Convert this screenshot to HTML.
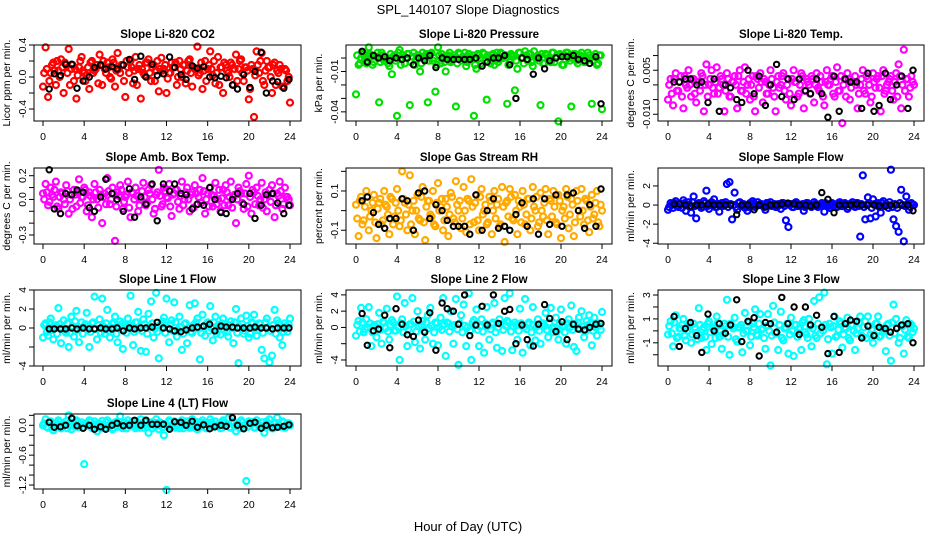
<!DOCTYPE html>
<html><head><meta charset="utf-8"><style>
html,body{margin:0;padding:0;background:#fff}
svg{display:block;font-family:"Liberation Sans",sans-serif}
</style></head><body>
<svg id="c" width="936" height="540" viewBox="0 0 936 540">
<text x="468" y="14" text-anchor="middle" font-size="13">SPL_140107  Slope Diagnostics</text>
<text x="468" y="531" text-anchor="middle" font-size="13">Hour of Day (UTC)</text>
</svg>
<script>
const hours = [0,0.25,0.5,0.75,1,1.25,1.5,1.75,2,2.25,2.5,2.75,3,3.25,3.5,3.75,4,4.25,4.5,4.75,5,5.25,5.5,5.75,6,6.25,6.5,6.75,7,7.25,7.5,7.75,8,8.25,8.5,8.75,9,9.25,9.5,9.75,10,10.25,10.5,10.75,11,11.25,11.5,11.75,12,12.25,12.5,12.75,13,13.25,13.5,13.75,14,14.25,14.5,14.75,15,15.25,15.5,15.75,16,16.25,16.5,16.75,17,17.25,17.5,17.75,18,18.25,18.5,18.75,19,19.25,19.5,19.75,20,20.25,20.5,20.75,21,21.25,21.5,21.75,22,22.25,22.5,22.75,23,23.25,23.5,23.75,24];
const hoursB = [0.12,0.37,0.62,0.87,1.12,1.37,1.62,1.87,2.12,2.37,2.62,2.87,3.12,3.37,3.62,3.87,4.12,4.37,4.62,4.87,5.12,5.37,5.62,5.87,6.12,6.37,6.62,6.87,7.12,7.37,7.62,7.87,8.12,8.37,8.62,8.87,9.12,9.37,9.62,9.87,10.12,10.37,10.62,10.87,11.12,11.37,11.62,11.87,12.12,12.37,12.62,12.87,13.12,13.37,13.62,13.87,14.12,14.37,14.62,14.87,15.12,15.37,15.62,15.87,16.12,16.37,16.62,16.87,17.12,17.37,17.62,17.87,18.12,18.37,18.62,18.87,19.12,19.37,19.62,19.87,20.12,20.37,20.62,20.87,21.12,21.37,21.62,21.87,22.12,22.37,22.62,22.87,23.12,23.37,23.62,23.87];
const blackHours = [0.6,1.1,1.7,2.2,2.8,3.3,3.9,4.5,5.0,5.6,6.1,6.7,7.2,7.8,8.4,8.9,9.5,10.0,10.6,11.1,11.7,12.3,12.8,13.4,13.9,14.5,15.0,15.6,16.2,16.7,17.3,17.8,18.4,18.9,19.5,20.1,20.6,21.2,21.7,22.3,22.8,23.4,23.9];
const xTicks = [0,4,8,12,16,20,24];

const co2 = [-0.12,0.37,-0.25,0.05,0.18,-0.1,0.08,0.22,-0.2,0.15,0.35,0.1,-0.05,-0.27,0.12,0.25,0.05,0.02,-0.15,0.2,0.08,0.15,0.28,-0.1,0.1,0.18,0.0,0.22,-0.12,0.3,0.05,0.15,-0.25,0.12,0.2,-0.08,0.25,0.1,-0.27,0.05,0.18,0.22,-0.05,0.15,0.08,-0.18,0.24,0.1,-0.2,0.05,0.18,0.12,-0.1,0.2,0.0,0.15,0.08,0.22,-0.12,0.1,0.38,0.05,-0.15,0.2,0.1,0.32,0.02,-0.08,0.25,0.12,-0.2,0.15,0.05,0.18,-0.1,0.28,0.1,0.22,-0.05,0.12,-0.28,0.15,-0.5,0.32,0.05,0.3,-0.1,0.2,0.12,-0.2,0.18,0.08,0.15,-0.12,0.1,-0.05,-0.32];
const co2B = [0.05,0.1,-0.05,0.15,0.08,0.2,0.0,0.12,0.18,0.05,-0.1,0.15,0.1,0.02,0.2,0.08,-0.05,0.12,0.18,0.05,0.1,-0.08,0.15,0.2,0.05,0.12,-0.02,0.18,0.08,0.1,0.15,-0.05,0.2,0.05,0.12,0.08,-0.1,0.15,0.1,0.02,0.18,0.05,0.12,-0.05,0.2,0.1,0.08,0.15,-0.02,0.05,0.12,0.18,0.0,0.1,0.15,-0.08,0.2,0.05,0.12,0.1,0.02,0.18,0.08,-0.05,0.15,0.1,0.2,0.05,-0.1,0.12,0.18,0.08,0.0,0.15,0.1,-0.05,0.2,0.05,0.12,0.08,-0.15,0.1,0.02,0.15,0.2,-0.05,0.08,0.12,0.0,0.15,-0.1,0.05,0.1,-0.12,0.08,0.0];
const co2Black = [-0.15,0.04,0.02,0.16,0.16,-0.14,-0.05,0.0,0.12,0.15,0.1,0.13,0.1,0.15,0.22,-0.03,0.26,0.0,0.16,0.02,0.04,0.25,0.12,0.03,-0.03,0.14,0.11,0.13,0.0,-0.01,0.01,-0.01,-0.1,-0.15,0.03,-0.13,0.07,0.31,-0.2,-0.05,-0.06,-0.14,-0.03];
const pres = [-0.027,-0.005,0.0,0.003,-0.004,0.008,0.002,-0.003,0.001,-0.033,0.004,-0.002,0.0,-0.006,-0.012,0.002,-0.043,0.006,0.0,-0.004,0.003,-0.035,0.001,-0.005,0.002,-0.01,0.004,0.0,-0.033,0.003,-0.002,-0.025,0.008,-0.004,0.001,-0.01,0.002,-0.003,0.0,-0.036,0.004,-0.002,0.001,-0.006,0.003,0.0,-0.043,-0.008,0.002,-0.004,0.003,-0.031,0.0,0.002,-0.005,0.004,-0.001,0.003,0.001,-0.034,-0.003,0.002,-0.024,-0.008,0.004,0.0,0.005,-0.002,0.003,-0.006,0.001,0.002,-0.035,-0.004,0.003,0.0,-0.003,0.004,0.001,-0.047,0.002,-0.005,0.004,0.0,-0.036,0.003,-0.002,0.001,0.004,-0.003,0.0,0.002,-0.034,0.001,-0.005,0.002,-0.038];
const presB = [0.002,-0.004,0.004,0.0,-0.002,0.003,-0.005,0.001,0.004,-0.003,0.002,0.0,-0.004,0.003,0.001,-0.002,0.004,-0.005,0.002,0.0,0.003,-0.003,0.004,-0.001,0.002,-0.004,0.001,0.003,-0.002,0.004,0.0,-0.005,0.002,0.003,-0.003,0.001,0.004,-0.002,0.002,-0.004,0.003,0.0,0.004,-0.003,0.001,0.002,-0.005,0.003,0.0,0.004,-0.002,0.002,-0.004,0.003,0.001,-0.003,0.004,0.0,0.002,-0.005,0.003,0.001,-0.002,0.004,0.0,-0.004,0.002,0.003,-0.003,0.005,0.001,-0.002,0.003,-0.004,0.002,0.0,0.004,-0.003,0.001,0.003,-0.005,0.002,0.004,-0.002,0.0,0.003,-0.004,0.002,0.001,-0.003,0.004,0.0,-0.002,0.003,-0.004,0.002];
const presBlack = [0.005,-0.003,0.002,0.0,0.001,-0.002,0.0,-0.001,0.0,-0.005,0.0,-0.002,0.002,-0.007,0.0,-0.001,-0.001,-0.001,-0.001,-0.001,0.0,-0.006,-0.003,0.0,0.0,0.002,-0.005,-0.03,0.0,-0.001,-0.012,0.0,-0.008,-0.002,0.0,0.001,0.001,0.002,-0.001,-0.002,-0.004,0.001,-0.034];
const temp = [-0.005,0.002,-0.007,0.004,-0.002,0.003,-0.008,0.0,0.005,-0.004,0.002,-0.006,0.001,0.004,-0.009,0.007,0.0,0.005,-0.003,0.006,-0.001,0.002,-0.009,0.004,-0.004,0.001,0.003,-0.008,0.005,-0.002,0.006,0.0,-0.005,0.003,-0.009,0.002,0.004,-0.006,0.001,-0.003,0.005,-0.001,-0.009,0.003,0.0,0.004,-0.005,0.002,-0.007,0.005,0.001,-0.003,0.004,-0.008,0.002,0.0,0.003,-0.006,0.004,-0.002,0.001,-0.007,0.005,0.0,0.003,-0.004,0.006,-0.002,-0.013,0.002,0.004,-0.005,0.001,0.003,-0.008,0.0,0.005,-0.003,0.002,-0.006,0.004,-0.001,0.003,-0.009,0.005,-0.002,0.001,0.003,-0.005,0.004,0.007,-0.008,0.012,0.002,-0.004,0.003,0.0];
const tempB = [0.0,-0.003,0.002,-0.002,0.001,-0.004,0.003,-0.001,0.0,0.002,-0.003,0.001,-0.002,0.003,0.0,-0.004,0.002,-0.001,0.001,-0.003,0.003,0.0,-0.002,0.002,-0.004,0.001,0.0,0.003,-0.002,0.001,-0.003,0.002,0.0,-0.004,0.003,-0.001,0.001,0.002,-0.003,0.0,0.002,-0.004,0.001,-0.001,0.003,-0.002,0.0,-0.003,0.002,0.001,-0.004,0.0,0.003,-0.002,0.001,-0.003,0.002,0.0,-0.001,0.003,-0.004,0.001,0.0,0.002,-0.003,0.001,-0.002,0.003,0.0,-0.004,0.002,-0.001,0.001,0.0,-0.003,0.002,-0.002,0.003,0.0,-0.004,0.001,0.002,-0.001,0.003,-0.003,0.0,0.002,-0.002,0.001,-0.004,0.003,0.0,-0.002,0.002,-0.001,0.001];
const tempBlack = [0.001,0.001,0.002,0.002,0.0,0.001,-0.006,0.002,-0.009,0.0,-0.001,-0.005,-0.006,0.005,-0.003,0.003,-0.007,0.0,0.007,-0.004,0.002,-0.005,0.002,-0.002,-0.003,0.002,-0.003,-0.011,0.003,-0.009,0.002,0.001,0.001,-0.008,0.004,-0.009,-0.007,0.004,-0.005,0.0,0.003,-0.008,0.005];
const amb = [0.05,0.13,-0.05,0.1,0.02,0.15,-0.08,0.06,0.0,0.12,-0.12,0.04,0.08,-0.06,0.17,0.02,0.1,-0.1,0.06,-0.15,0.13,0.0,0.08,-0.2,0.05,0.18,-0.04,0.1,-0.35,0.06,0.12,-0.08,0.02,0.15,-0.15,0.05,0.1,-0.1,0.0,0.14,-0.05,0.08,0.12,-0.12,0.04,0.25,-0.06,0.1,0.02,0.13,-0.14,0.05,0.08,-0.08,0.15,0.0,0.1,-0.1,0.06,0.12,-0.04,0.08,0.18,-0.12,0.05,0.1,-0.06,0.14,0.0,-0.1,0.08,0.12,-0.05,0.15,0.02,-0.2,0.1,0.05,-0.08,0.13,0.2,-0.12,0.06,0.1,-0.05,0.14,0.0,-0.1,0.08,0.12,-0.15,0.05,0.15,-0.08,0.1,0.02,-0.05];
const ambB = [0.0,0.06,-0.02,0.04,0.08,-0.06,0.02,0.05,-0.04,0.07,0.0,-0.08,0.04,0.06,-0.03,0.02,0.08,-0.05,0.03,0.0,0.06,-0.07,0.04,0.02,-0.04,0.07,0.0,0.05,-0.06,0.03,0.08,-0.02,0.04,-0.07,0.06,0.0,0.03,-0.05,0.07,0.02,-0.03,0.05,0.0,-0.08,0.06,0.03,-0.04,0.07,0.01,-0.06,0.04,0.08,-0.02,0.03,-0.05,0.06,0.0,0.04,-0.07,0.05,0.02,-0.03,0.07,0.0,-0.06,0.04,0.03,-0.04,0.08,0.01,-0.05,0.06,0.02,-0.07,0.04,0.0,0.07,-0.03,0.05,-0.06,0.02,0.08,-0.04,0.03,0.0,-0.07,0.06,0.04,-0.02,0.05,-0.05,0.03,0.07,-0.04,0.02,0.0];
const ambBlack = [0.25,-0.08,-0.12,0.05,0.04,0.08,0.06,-0.07,-0.1,0.02,0.17,0.05,0.0,-0.1,0.09,-0.15,0.02,-0.04,0.13,-0.18,0.13,0.07,0.13,0.05,0.04,-0.08,-0.04,-0.05,0.1,0.0,-0.11,-0.12,0.0,0.05,-0.04,0.05,-0.16,-0.05,0.04,0.05,-0.03,-0.12,-0.05];
const rh = [0.03,-0.13,0.07,-0.05,0.1,-0.1,0.0,0.08,-0.14,0.04,-0.07,0.1,0.02,-0.12,0.06,-0.03,0.11,-0.08,0.2,0.04,-0.1,0.18,0.0,-0.12,0.08,-0.05,0.12,-0.15,0.05,-0.02,0.1,-0.08,0.14,0.02,-0.1,0.06,-0.13,0.09,-0.04,0.15,0.0,-0.09,0.12,-0.11,0.05,0.16,-0.06,0.08,-0.1,0.11,0.0,-0.07,0.07,-0.12,0.1,0.03,-0.08,0.12,-0.16,0.05,0.11,-0.04,0.08,-0.12,0.02,0.1,-0.07,0.06,-0.1,0.12,0.0,-0.08,0.09,-0.03,0.11,-0.12,0.05,0.1,-0.06,0.08,-0.14,0.02,0.11,-0.09,0.06,-0.13,0.1,0.0,0.11,-0.07,0.05,-0.11,0.08,-0.02,0.1,-0.08,0.0];
const rhB = [-0.04,0.05,-0.07,0.02,0.07,-0.03,0.04,-0.06,0.01,0.06,-0.05,0.03,-0.02,0.07,-0.07,0.04,0.0,-0.05,0.06,-0.02,0.03,-0.07,0.05,0.0,-0.04,0.07,-0.06,0.02,0.05,-0.03,-0.07,0.04,0.0,0.06,-0.05,0.02,-0.02,0.07,-0.06,0.03,0.05,-0.04,0.0,0.06,-0.07,0.02,0.04,-0.05,0.07,-0.02,0.03,-0.06,0.05,0.0,-0.04,0.06,-0.07,0.02,0.04,-0.03,0.07,-0.05,0.0,0.05,-0.06,0.03,-0.02,0.06,-0.04,0.02,0.07,-0.06,0.0,0.04,-0.05,0.06,-0.03,0.02,-0.07,0.05,0.0,-0.04,0.07,-0.02,0.03,-0.06,0.05,-0.03,0.0,0.06,-0.05,0.02,-0.04,0.04,-0.06,0.03];
const rhBlack = [0.05,0.07,-0.01,-0.07,-0.09,-0.04,-0.04,0.06,0.05,-0.1,0.09,0.1,-0.04,0.03,0.0,-0.05,-0.08,-0.08,-0.08,-0.12,0.08,-0.1,0.0,0.06,-0.09,-0.08,-0.1,-0.02,0.04,-0.08,0.06,-0.12,0.06,-0.07,0.08,-0.08,0.08,0.09,0.0,-0.09,0.03,-0.08,0.11];
const sflow = [-0.5,0.2,-0.3,0.4,-0.2,0.1,0.5,-0.6,0.3,-0.8,0.9,-1.4,0.2,-0.3,0.4,1.5,-0.4,0.3,0.6,-0.2,-0.7,0.2,0.1,2.2,2.4,-1.5,1.3,-0.5,0.3,0.0,-0.3,-0.6,0.2,0.4,-0.2,0.3,0.1,-0.1,-0.5,0.2,0.3,0.0,-0.2,0.1,-0.4,0.2,-1.6,-2.3,0.1,-0.2,0.3,-0.1,0.0,-0.6,0.2,0.1,-0.2,0.3,-0.1,0.0,0.2,-0.7,0.1,-0.3,0.2,0.0,-0.2,0.3,-0.1,0.2,-0.4,0.1,0.3,-0.2,0.2,-3.3,3.1,-1.5,0.8,-1.4,0.6,-1.2,0.2,-0.8,0.4,0.1,-0.3,3.7,-1.5,-2.2,-2.8,1.6,-3.8,0.9,-0.5,0.2,0.0];
const sflowB = [-0.2,0.0,0.2,-0.1,0.1,-0.3,0.2,0.0,-0.2,0.3,-0.1,0.1,0.0,-0.2,0.2,-0.1,0.0,0.2,-0.2,0.1,0.0,-0.1,0.3,-0.2,0.1,0.0,-0.2,0.2,-0.1,0.1,0.0,-0.2,0.1,0.2,-0.1,0.0,0.1,-0.2,0.2,0.0,-0.1,0.1,-0.2,0.0,0.2,-0.1,0.1,0.0,-0.2,0.2,-0.1,0.0,0.1,-0.2,0.2,0.0,-0.1,0.1,-0.2,0.1,0.0,0.2,-0.1,0.0,0.1,-0.2,0.2,-0.1,0.0,0.1,-0.2,0.1,0.0,0.2,-0.1,0.1,-0.2,0.0,0.2,-0.3,0.1,0.0,-0.2,0.2,-0.1,0.0,0.3,-0.2,0.1,-0.3,0.2,0.0,-0.1,0.1,-0.2,0.0];
const sflowBlack = [0.1,0.1,0.0,-0.1,0.0,0.0,0.1,0.0,0.0,0.0,0.0,-1.0,0.0,0.0,-0.5,0.0,-0.2,0.0,0.0,0.1,0.2,0.1,0.0,0.0,-0.1,0.0,1.3,0.6,-0.8,0.0,0.0,0.0,0.1,0.0,0.0,0.0,-0.1,-0.1,0.0,0.0,0.0,0.0,-0.6];
const line1 = [-1.0,0.5,-0.8,1.0,-1.2,0.3,2.1,-1.6,0.8,-0.5,-2.0,1.2,-0.9,1.8,-1.5,0.6,0.2,1.6,-2.0,0.5,3.3,-1.2,0.9,3.1,-0.6,1.9,-1.0,0.4,1.2,-1.5,0.7,-2.2,0.3,1.0,3.4,-1.8,0.6,1.7,-2.4,0.9,-2.5,1.5,2.8,-1.0,3.7,-3.2,0.5,1.1,3.1,-1.5,0.8,2.7,-0.9,1.2,-2.3,0.4,-1.6,2.4,-0.5,2.6,1.0,-3.3,1.4,-0.8,0.6,2.3,-1.3,1.2,0.3,-0.7,1.0,0.4,-0.9,0.7,-1.6,2.0,-3.7,1.0,-0.6,1.3,-1.0,0.6,1.4,-0.8,0.5,-2.3,-3.2,1.0,-3.6,-2.9,1.9,0.8,-1.0,-1.8,0.5,-0.4,1.0];
const line1B = [0.3,-0.4,0.6,-0.2,0.1,-0.6,0.4,0.0,-0.3,0.5,-0.5,0.2,0.7,-0.2,0.0,-0.6,0.4,0.1,-0.4,0.6,-0.1,0.3,-0.5,0.2,0.5,-0.3,0.0,0.6,-0.6,0.2,0.4,-0.2,-0.5,0.3,0.1,-0.4,0.6,0.0,-0.3,0.4,-0.6,0.2,0.5,-0.1,-0.4,0.3,0.7,-0.5,0.0,0.4,-0.3,0.6,-0.2,0.1,-0.6,0.5,0.0,-0.4,0.3,0.6,-0.1,-0.5,0.2,0.4,-0.3,0.0,0.6,-0.6,0.2,0.5,-0.2,-0.4,0.3,0.0,0.6,-0.5,0.1,0.4,-0.3,0.2,-0.6,0.5,0.0,-0.2,0.4,-0.5,0.6,0.1,-0.3,0.3,-0.6,0.5,0.0,-0.4,0.2,0.4];
const line1Black = [-0.1,-0.1,-0.1,-0.1,0.0,-0.1,0.0,-0.1,-0.1,0.0,-0.1,-0.1,0.0,-0.3,0.0,-0.1,0.0,0.0,0.1,0.6,0.0,-0.1,-0.3,-0.4,-0.2,0.0,0.1,0.2,0.4,-0.3,0.2,0.1,0.1,0.0,0.0,0.0,0.1,0.0,0.0,-0.1,0.0,0.0,0.0];
const line2 = [-1.0,0.8,2.4,-0.6,1.0,2.5,-2.3,0.3,-1.2,1.8,-2.0,0.6,2.3,-1.5,0.9,-0.4,3.8,-4.0,1.0,3.0,-2.3,0.4,3.6,-1.8,2.0,-2.6,0.8,-1.5,1.5,2.4,-2.0,0.6,-2.2,1.2,3.6,-3.5,0.5,2.0,-2.0,3.5,-4.6,1.5,2.8,-2.3,4.2,-4.0,0.9,2.2,-2.3,1.0,-3.1,2.5,-1.5,0.4,3.0,-2.5,1.0,-2.9,3.6,0.8,4.2,-2.8,0.6,-1.5,2.3,-3.1,3.5,0.4,-2.2,2.5,-1.6,1.0,-2.0,0.5,1.8,-1.2,2.4,-0.6,1.2,-1.5,2.2,0.2,-2.0,1.0,2.7,-2.4,-2.9,1.2,2.0,-1.2,0.8,1.5,-2.2,1.2,-1.0,0.5,1.9];
const line2B = [0.3,-0.5,0.6,-0.2,0.0,0.5,-0.6,0.2,0.4,-0.3,0.7,-0.1,-0.5,0.3,0.6,-0.4,0.0,0.5,-0.6,0.2,-0.2,0.4,0.7,-0.5,0.1,0.3,-0.4,0.6,-0.1,0.2,-0.6,0.5,0.0,-0.3,0.4,0.6,-0.5,0.1,0.3,-0.2,0.5,-0.6,0.2,0.0,-0.4,0.6,0.3,-0.3,0.1,-0.5,0.5,0.2,-0.2,0.6,-0.6,0.0,0.4,-0.3,0.2,0.6,-0.5,0.1,0.3,-0.4,0.5,0.0,-0.2,0.6,-0.6,0.3,0.1,-0.4,0.5,0.2,-0.3,0.6,-0.1,0.0,-0.5,0.4,0.2,-0.6,0.5,0.0,-0.3,0.4,0.6,-0.2,0.1,-0.5,0.3,0.5,-0.4,0.0,0.2,-0.3];
const line2Black = [1.7,-2.2,-0.4,-0.2,1.5,-2.5,2.3,0.4,-0.9,-1.1,0.9,-0.6,1.8,-2.8,3.0,2.3,2.0,0.4,4.0,-1.0,0.3,2.6,0.3,4.0,0.5,2.0,2.2,-2.0,0.3,-1.5,-2.3,0.4,2.8,1.1,-0.5,0.7,-1.5,0.4,-0.2,-0.3,0.0,0.4,0.5];
const line3 = [-0.3,0.8,-1.3,1.3,-0.5,0.2,1.0,-0.8,0.4,-1.0,0.6,-0.2,1.9,-0.6,0.3,-1.6,0.8,-1.1,0.2,1.2,-0.5,-1.5,0.6,2.6,-2.0,0.4,1.1,-0.9,0.3,-1.8,1.5,0.0,-1.2,0.6,1.8,-0.4,1.4,0.2,-1.5,1.4,-2.9,2.1,-0.2,-1.6,1.6,-0.8,0.3,-1.9,1.1,-2.1,0.5,0.2,-1.6,0.9,-0.3,1.0,-1.3,2.5,-0.6,2.8,0.3,3.2,-2.8,0.6,-1.9,1.2,-0.4,0.8,-1.4,0.3,1.1,-0.8,0.5,-1.6,0.2,1.2,-0.5,0.8,1.2,-0.3,-1.0,0.6,1.2,-0.4,0.2,-1.7,0.6,-2.5,2.2,1.0,-1.0,0.4,-1.9,0.9,-0.6,0.5,0.2];
const line3B = [0.4,-0.2,0.7,-0.6,0.2,0.5,-0.4,0.0,0.6,-0.3,0.3,-0.7,0.5,0.1,-0.5,0.6,-0.1,0.3,-0.6,0.7,0.0,-0.3,0.4,-0.5,0.6,0.2,-0.7,0.3,0.5,-0.2,0.0,0.7,-0.5,0.3,-0.3,0.6,0.1,-0.6,0.4,0.0,-0.4,0.7,-0.2,0.5,-0.6,0.2,0.6,-0.3,0.0,0.5,-0.5,0.3,0.7,-0.1,-0.6,0.4,0.2,-0.4,0.6,-0.2,0.0,0.5,-0.7,0.3,0.4,-0.5,0.1,0.6,-0.3,0.2,-0.6,0.5,0.0,-0.2,0.7,-0.4,0.3,-0.6,0.4,0.1,-0.3,0.6,-0.5,0.2,0.0,0.5,-0.4,0.7,-0.2,0.3,-0.6,0.4,0.1,-0.5,0.6,-0.1];
const line3Black = [1.2,-1.3,0.2,0.7,-0.4,-1.8,1.4,0.0,0.6,-0.2,0.5,2.6,-0.9,0.8,1.1,-2.1,0.7,0.6,-0.1,2.8,0.6,2.0,-0.3,2.0,0.5,1.3,0.3,-1.9,1.2,-1.8,0.6,0.9,0.8,-0.6,0.4,-0.4,0.3,0.2,-0.1,0.2,0.5,0.6,-1.0];
const line4 = [0.0,0.12,-0.05,0.08,-0.1,0.04,0.1,-0.06,0.02,0.08,0.2,-0.08,0.05,0.1,-0.04,0.06,-0.78,0.03,0.1,-0.05,0.08,-0.12,0.0,0.09,-0.06,0.1,0.02,-0.08,0.06,-0.03,0.18,-0.06,0.05,0.1,-0.02,0.08,-0.06,0.04,0.12,-0.05,0.1,-0.15,0.06,0.0,0.12,-0.08,0.04,-0.2,-1.3,0.1,-0.04,0.08,0.02,-0.06,0.1,0.0,0.08,-0.05,0.12,0.03,-0.08,0.06,0.1,-0.04,0.05,0.12,-0.03,0.08,0.0,-0.06,0.1,0.04,0.14,-0.05,0.08,-0.12,0.02,0.1,-0.06,-1.12,0.08,0.03,-0.04,0.1,0.0,0.06,-0.15,0.08,0.12,-0.06,0.04,0.15,-0.02,0.08,-0.05,0.04,0.0];
const line4B = [0.04,-0.03,0.06,0.0,-0.05,0.03,0.07,-0.02,0.02,-0.06,0.05,0.0,-0.03,0.06,0.01,-0.05,0.04,-0.01,0.07,-0.04,0.02,0.05,-0.06,0.0,0.06,-0.02,0.03,-0.05,0.07,0.0,-0.03,0.05,-0.06,0.02,0.06,-0.01,0.0,-0.05,0.04,0.07,-0.03,0.02,-0.06,0.05,0.0,0.06,-0.04,0.03,-0.02,0.07,0.0,-0.05,0.04,0.02,-0.06,0.06,-0.01,0.03,-0.04,0.07,0.0,-0.02,0.05,-0.06,0.03,0.06,-0.03,0.0,0.04,-0.05,0.07,0.01,-0.04,0.05,-0.02,0.03,-0.06,0.06,0.0,-0.03,0.04,0.07,-0.05,0.02,-0.01,0.06,-0.04,0.03,0.0,-0.06,0.05,0.02,-0.03,0.06,-0.02,0.04];
const line4Black = [0.06,-0.04,-0.03,0.0,0.14,-0.01,-0.06,0.0,-0.08,-0.03,-0.08,0.0,0.04,-0.01,0.0,0.1,0.0,0.10,0.02,0.02,0.02,-0.08,0.07,0.06,0.00,0.08,-0.04,0.01,-0.07,-0.03,0.0,-0.02,0.15,0.0,-0.07,0.04,0.06,-0.06,0.0,-0.05,-0.04,-0.02,0.01];

const co2Ticks = [0.4,0.2,0,-0.2,-0.4];           const co2Labels = ["0.4","","0.0","","-0.4"];
const presTicks = [0,-0.01,-0.02,-0.03,-0.04];     const presLabels = ["","-0.01","","","-0.04"];
const tempTicks = [0.01,0.005,0,-0.005,-0.01];     const tempLabels = ["","0.005","","","-0.010"];
const ambTicks = [0.2,0.1,0,-0.1,-0.2,-0.3];       const ambLabels = ["0.2","","0.0","","","-0.3"];
const rhTicks = [0.2,0.1,0,-0.1];                  const rhLabels = ["","0.1","","-0.1"];
const sflowTicks = [2,0,-2,-4];                    const sflowLabels = ["2","0","-2","-4"];
const line1Ticks = [4,2,0,-2,-4];                  const line1Labels = ["4","2","0","","-4"];
const line2Ticks = [4,2,0,-2,-4];                  const line2Labels = ["4","2","0","","-4"];
const line3Ticks = [3,2,1,0,-1,-2,-3];             const line3Labels = ["3","","1","","-1","","-3"];
const line4Ticks = [0.2,0,-0.2,-0.4,-0.6,-0.8,-1,-1.2]; const line4Labels = ["","0.0","","","-0.6","","","-1.2"];

const NS = "http://www.w3.org/2000/svg";
const svg = document.getElementById('c');
function mk(tag, attrs, parent){ const e=document.createElementNS(NS,tag); for(const k in attrs) e.setAttribute(k,attrs[k]); (parent||svg).appendChild(e); return e; }

const cols = [{l:34,r:301,x0:43,x1:290},{l:346,r:612,x0:356,x1:602},{l:658,r:924,x0:668,x1:914}];
const rows = [{t:45,b:121},{t:168,b:244},{t:290,b:366},{t:414,b:489}];

const panels = [
 {name:"co2",title:"Slope Li-820 CO2",ylab:"Licor ppm per min.",c:0,r:0,ymin:-0.55,ymax:0.4,col:"#ff0000",d:co2,d2:co2B,k:co2Black,ticks:co2Ticks,labels:co2Labels},
 {name:"pressure",title:"Slope Li-820 Pressure",ylab:"kPa per min.",c:1,r:0,ymin:-0.0468,ymax:0.0097,col:"#00e000",d:pres,d2:presB,k:presBlack,ticks:presTicks,labels:presLabels},
 {name:"temp",title:"Slope Li-820 Temp.",ylab:"degrees C per min.",c:2,r:0,ymin:-0.0123,ymax:0.0136,col:"#ff00ff",d:temp,d2:tempB,k:tempBlack,ticks:tempTicks,labels:tempLabels},
 {name:"amb-box-temp",title:"Slope Amb. Box Temp.",ylab:"degrees C per min.",c:0,r:1,ymin:-0.376,ymax:0.265,col:"#ff00ff",d:amb,d2:ambB,k:ambBlack,ticks:ambTicks,labels:ambLabels},
 {name:"gas-rh",title:"Slope Gas Stream RH",ylab:"percent per min.",c:1,r:1,ymin:-0.17,ymax:0.217,col:"#ffaa00",d:rh,d2:rhB,k:rhBlack,ticks:rhTicks,labels:rhLabels},
 {name:"sample-flow",title:"Slope Sample Flow",ylab:"ml/min per min.",c:2,r:1,ymin:-4.08,ymax:3.88,col:"#0000ff",d:sflow,d2:sflowB,k:sflowBlack,ticks:sflowTicks,labels:sflowLabels},
 {name:"line1-flow",title:"Slope Line 1 Flow",ylab:"ml/min per min.",c:0,r:2,ymin:-4,ymax:4,col:"#00ffff",d:line1,d2:line1B,k:line1Black,ticks:line1Ticks,labels:line1Labels},
 {name:"line2-flow",title:"Slope Line 2 Flow",ylab:"ml/min per min.",c:1,r:2,ymin:-4.74,ymax:4.6,col:"#00ffff",d:line2,d2:line2B,k:line2Black,ticks:line2Ticks,labels:line2Labels},
 {name:"line3-flow",title:"Slope Line 3 Flow",ylab:"ml/min per min.",c:2,r:2,ymin:-2.94,ymax:3.42,col:"#00ffff",d:line3,d2:line3B,k:line3Black,ticks:line3Ticks,labels:line3Labels},
 {name:"line4-flow",title:"Slope Line 4 (LT) Flow",ylab:"ml/min per min.",c:0,r:3,ymin:-1.28,ymax:0.227,col:"#00ffff",d:line4,d2:line4B,k:line4Black,ticks:line4Ticks,labels:line4Labels}
];

panels.forEach(p=>{
  const C=cols[p.c], R=rows[p.r];
  const g = mk('g',{});
  
  
  const xs = v => C.x0 + (v/24)*(C.x1-C.x0);
  const ys = v => R.b - (v-p.ymin)/(p.ymax-p.ymin)*(R.b-R.t);
  const cx=(C.l+C.r)/2;
  const t = mk('text',{x:cx,y:R.t-7,'text-anchor':'middle','font-size':11.5,'font-weight':'bold'},g);
  t.textContent=p.title;
  
  
  const yl = mk('text',{x:0,y:0,'text-anchor':'middle','font-size':10.5,transform:`translate(${C.l-24},${(R.t+R.b)/2}) rotate(-90)`},g);
  yl.textContent=p.ylab;
  
  
  const pts = mk('g',{fill:'none',stroke:p.col,'stroke-width':2.2},g);
  
  
  const n2=Math.min(hoursB.length,p.d2.length);
  for(let i=0;i<n2;i++){
    const c=mk('circle',{cx:xs(hoursB[i]).toFixed(1),cy:ys(p.d2[i]).toFixed(1),r:3},pts);
    
    
  }
  const n=Math.min(hours.length,p.d.length);
  for(let i=0;i<n;i++){
    const c=mk('circle',{cx:xs(hours[i]).toFixed(1),cy:ys(p.d[i]).toFixed(1),r:3},pts);
    
    
  }
  const bk = mk('g',{fill:'none',stroke:'#000','stroke-width':2},g);
  
  
  const m=Math.min(blackHours.length,p.k.length);
  for(let i=0;i<m;i++){
    const c=mk('circle',{cx:xs(blackHours[i]).toFixed(1),cy:ys(p.k[i]).toFixed(1),r:2.7},bk);
    
    
  }
  const box=mk('rect',{x:C.l,y:R.t,width:C.r-C.l,height:R.b-R.t,fill:'none',stroke:'#000','stroke-width':1},g);
  
  
  const xa=mk('g',{'font-size':10.5,'text-anchor':'middle'},g);
  
  
  xTicks.forEach(v=>{
    const x=xs(v);
    mk('line',{x1:x,x2:x,y1:R.b,y2:R.b+5,stroke:'#000'},xa);
    const tt=mk('text',{x:x,y:R.b+19},xa); tt.textContent=v;
  });
  const ya=mk('g',{'font-size':10.5,'text-anchor':'middle'},g);
  
  
  p.ticks.forEach((v,i)=>{
    const y=ys(v);
    if(y<R.t-0.5||y>R.b+0.5) return;
    mk('line',{x1:C.l-5,x2:C.l,y1:y,y2:y,stroke:'#000'},ya);
    if(p.labels[i]){
      const tt=mk('text',{x:0,y:0,transform:`translate(${C.l-8},${y}) rotate(-90)`},ya);
      tt.textContent=p.labels[i];
    }
  });
});
</script>
</body></html>
